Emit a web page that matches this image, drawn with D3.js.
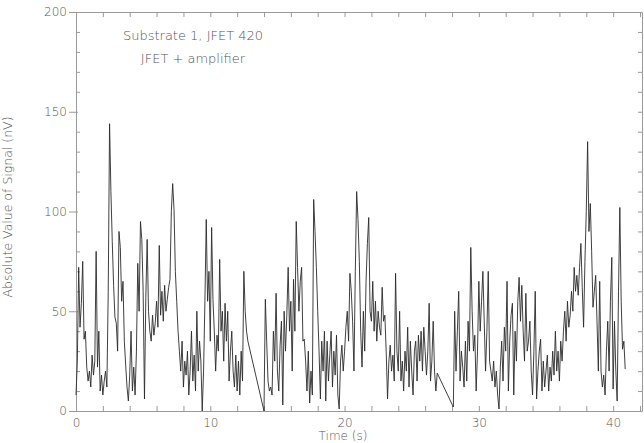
<!DOCTYPE html>
<html>
<head>
<meta charset="utf-8">
<script src="https://cdn.jsdelivr.net/npm/d3@7"></script>
<style>
  body { margin: 0; background: #fff; }
  svg { display: block; }
  text { font-family: "DejaVu Sans", sans-serif; fill: #555; font-weight: 200; }
</style>
</head>
<body>
<svg id="chart" width="644" height="443"></svg>
<script>
(function() {

    // three recorded stretches, one sample every 0.1 s
    var seg1Start = 0.0;
    var seg1 = [
        8, 25, 72, 42, 54, 75, 36, 40, 22, 15,
        20, 12, 28, 18, 25, 80, 22, 40, 10, 18,
        8, 15, 20, 12, 60, 144, 110, 85, 63, 47,
        44, 30, 90, 82, 55, 65, 35, 23, 12, 5,
        18, 40, 10, 22, 8, 30, 74, 50, 95, 86,
        60, 6, 57, 86, 50, 40, 35, 48, 38, 44,
        55, 42, 83, 48, 60, 45, 63, 50, 56, 62,
        66, 100, 114, 101, 70, 55, 40, 30, 20, 35,
        12, 25, 18, 30, 8, 20, 40, 15, 28, 10,
        50, 20, 35, 25, 0, 20, 55, 96, 55, 70,
        35, 92, 56, 40, 20, 38, 30, 76, 40, 50,
        25, 54, 35, 50, 15, 30, 40, 20, 12, 28,
        10, 25, 8, 30, 15, 70, 50, 40, 35
    ];

    var seg2Start = 14.0;
    var seg2 = [
        0, 56, 35, 15, 10, 12, 8, 40, 25, 59,
        20, 10, 33, 45, 3, 50, 30, 48, 72, 40,
        55, 20, 66, 40, 95, 72, 50, 65, 72, 35,
        36, 25, 10, 30, 4, 20, 8, 106, 90, 72,
        50, 30, 6, 35, 20, 40, 5, 35, 15, 28,
        40, 12, 30, 18, 38, 8, 1, 25, 33, 20,
        30, 42, 50, 35, 69, 60, 45, 20, 70, 110,
        96, 75, 40, 22, 50, 30, 65, 84, 97, 50,
        45, 65, 40, 55, 35, 50, 42, 38, 62, 45,
        48, 30, 6, 25, 33, 20, 28, 15, 69, 30,
        20, 50, 15, 25, 10, 30, 20, 42, 12, 35,
        20, 8, 30, 35, 15, 38, 25, 40, 20, 42,
        30, 18, 30, 54, 15, 25, 45, 20, 10, 19
    ];

    var seg3Start = 28.1;
    var seg3 = [
        2, 50, 20, 40, 60, 15, 30, 22, 12,
        35, 15, 45, 30, 82, 50, 30, 38, 10, 30,
        65, 40, 55, 70, 45, 20, 40, 70, 25, 20,
        15, 25, 12, 20, 8, 1, 22, 35, 15, 42,
        30, 65, 10, 35, 48, 54, 8, 40, 25, 55,
        67, 45, 63, 40, 25, 59, 30, 35, 45, 20,
        8, 30, 60, 6, 20, 30, 36, 10, 25, 12,
        20, 28, 10, 22, 15, 30, 18, 40, 20, 30,
        15, 35, 25, 40, 50, 35, 55, 42, 48, 60,
        50, 72, 60, 68, 58, 72, 84, 62, 42, 75,
        100, 135, 90, 104, 80, 52, 60, 68, 45, 20,
        65, 20, 12, 18, 8, 30, 45, 20, 55, 77,
        11, 45, 20, 5, 60, 102, 55, 31, 35, 21
    ];

    var step = 0.1;
    var xTickLabels = [0, 10, 20, 30, 40];
    var yTickLabels = [0, 50, 100, 150, 200];
    var title1 = "Substrate 1, JFET 420";
    var title2 = "JFET + amplifier";
    var xTitle = "Time (s)";
    var yTitle = "Absolute Value of Signal (nV)";

    // join the stretches into one trace (gaps are just bridged by the line)
    var data = [];
    [[seg1Start, seg1], [seg2Start, seg2], [seg3Start, seg3]].forEach(function(s) {
        s[1].forEach(function(v, i) {
            data.push({t: s[0] + i * step, v: v});
        });
    });

    var left = 76, right = 642, top = 12, bottom = 411;

    var x = d3.scaleLinear().domain([0, 42.15]).range([left, right]);
    var y = d3.scaleLinear().domain([0, 200]).range([bottom, top]);

    var svg = d3.select("#chart");
    var axisColor = "#9a9a9a";

    // bottom axis: ticks every 2 s pointing in, labels every 10
    var gx = svg.append("g")
        .attr("transform", "translate(0," + bottom + ")")
        .call(d3.axisBottom(x)
            .tickValues(d3.range(0, 42.1, 2))
            .tickSizeInner(-5).tickSizeOuter(0).tickPadding(7)
            .tickFormat(function(d) { return xTickLabels.indexOf(d) >= 0 ? d : ""; }));

    var gxTop = svg.append("g")
        .attr("transform", "translate(0," + top + ")")
        .call(d3.axisTop(x)
            .tickValues(d3.range(0, 42.1, 2))
            .tickSizeInner(-5).tickSizeOuter(0)
            .tickFormat(""));

    var gy = svg.append("g")
        .attr("transform", "translate(" + left + ",0)")
        .call(d3.axisLeft(y)
            .tickValues(d3.range(0, 201, 10))
            .tickSizeInner(-4).tickSizeOuter(0).tickPadding(9)
            .tickFormat(function(d) { return yTickLabels.indexOf(d) >= 0 ? d : ""; }));

    // major y ticks poke out to the left
    gy.selectAll(".tick").filter(function(d) { return d % 50 === 0; })
        .select("line").attr("x1", -7).attr("x2", 2);

    var gyRight = svg.append("g")
        .attr("transform", "translate(" + right + ",0)")
        .call(d3.axisRight(y)
            .tickValues(d3.range(0, 201, 10))
            .tickSizeInner(-4).tickSizeOuter(0)
            .tickFormat(""));

    [gx, gxTop, gy, gyRight].forEach(function(g) {
        g.select(".domain").attr("stroke", axisColor);
        g.selectAll(".tick line").attr("stroke", axisColor);
        g.selectAll("text").attr("fill", "#555")
            .style("font-family", "DejaVu Sans, sans-serif")
            .style("font-weight", "200")
            .style("font-size", "12px");
    });

    var line = d3.line()
        .x(function(d) { return x(d.t); })
        .y(function(d) { return y(d.v); });

    svg.append("path")
        .datum(data)
        .attr("fill", "none")
        .attr("stroke", "#2a2a2a")
        .attr("stroke-width", 0.9)
        .attr("stroke-linejoin", "miter")
        .attr("d", line);

    svg.append("text")
        .attr("x", 193).attr("y", 40)
        .attr("text-anchor", "middle")
        .style("font-size", "13px")
        .text(title1);

    svg.append("text")
        .attr("x", 193).attr("y", 63)
        .attr("text-anchor", "middle")
        .style("font-size", "13px")
        .text(title2);

    svg.append("text")
        .attr("x", 343).attr("y", 440)
        .attr("text-anchor", "middle")
        .style("font-size", "12px")
        .text(xTitle);

    svg.append("text")
        .attr("transform", "translate(12,207) rotate(-90)")
        .attr("text-anchor", "middle")
        .style("font-size", "12.5px")
        .text(yTitle);

})();
</script>
</body>
</html>
